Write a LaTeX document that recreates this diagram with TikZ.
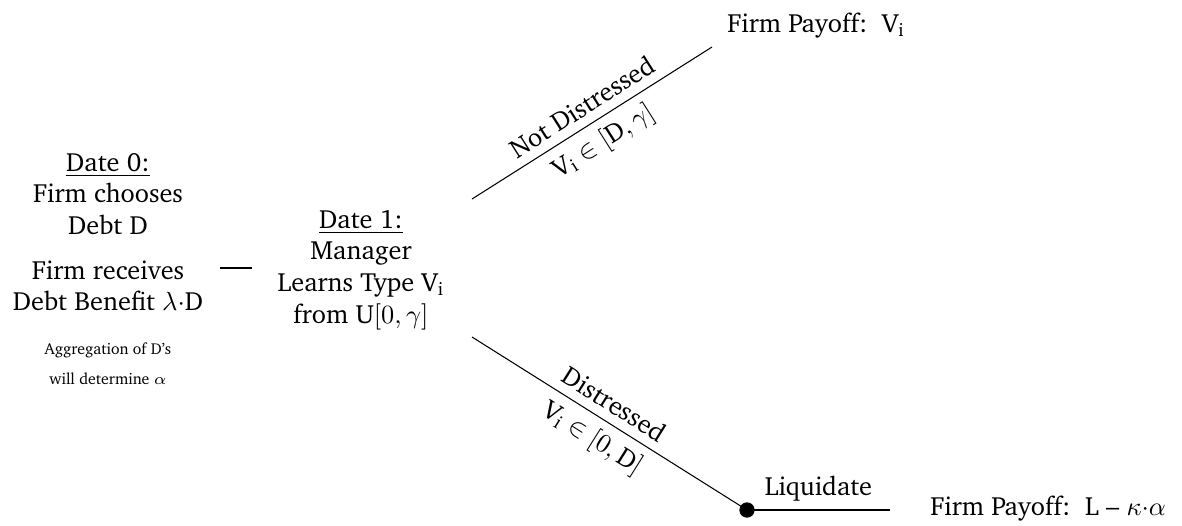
\documentclass[tikz,border=0pt]{standalone}
\usepackage[T1]{fontenc}
\usepackage{charter}
\usepackage{amssymb}
\usepackage{amsmath}
\usepackage{xcolor}
\usepackage{tikz}
\usetikzlibrary{
	arrows.meta,
	calc,
	positioning,
	shapes,
	}

\begin{document}
\begin{tikzpicture}[x=0.38pt, y=-0.38pt, every node/.style={align=center}]
			\useasboundingbox (0,0) rectangle (1182,525);

			\node (0) at (108,194) {\underline{Date 0:}\\Firm chooses\\Debt D};
			\node (0b) at (108,286) {Firm receives\\Debt Benefit $\lambda{\cdot}$D};
			\node[font=\fontsize{6}{11.5}\selectfont] (0c) at (108,364) {Aggregation of D's\\will determine $\alpha$};
			\node (1) at (361,270) {\underline{Date 1:}\\Manager\\Learns Type V\textsubscript{i}\\from U$[0,\gamma]$};
			\node[anchor=base west] (pay) at (718,32) {Firm Payoff:\ \ V\textsubscript{i}};
			\node[anchor=base west] (payL) at (921,515) {Firm Payoff:\ \ L -- $\kappa{\cdot}\alpha$};
			\node[draw, circle, fill, inner sep=0pt, minimum size=5.4pt] (liq) at (747,510) {};

			\coordinate (d0) at (220,268);
			\coordinate (d1) at (252,268);
			\coordinate (up0) at (472,199);
			\coordinate (up1) at (712,47);
			\coordinate (lo0) at (472,337);
			\coordinate (lend) at (890,510);

			\draw (d0) -- (d1);
			\draw (up0) -- node[sloped, above, pos=0.5] {Not Distressed} node[sloped, below, pos=0.5] {V\textsubscript{i} $\in [\mbox{D},\gamma]$} (up1);
			\draw (lo0) -- node[sloped, above, pos=0.48] {Distressed} node[sloped, below, pos=0.48] {V\textsubscript{i} $\in [0,\mbox{D}]$} (liq.center);
			\draw (liq.center) -- node[above] {Liquidate} (lend);

		\end{tikzpicture}
\end{document}
